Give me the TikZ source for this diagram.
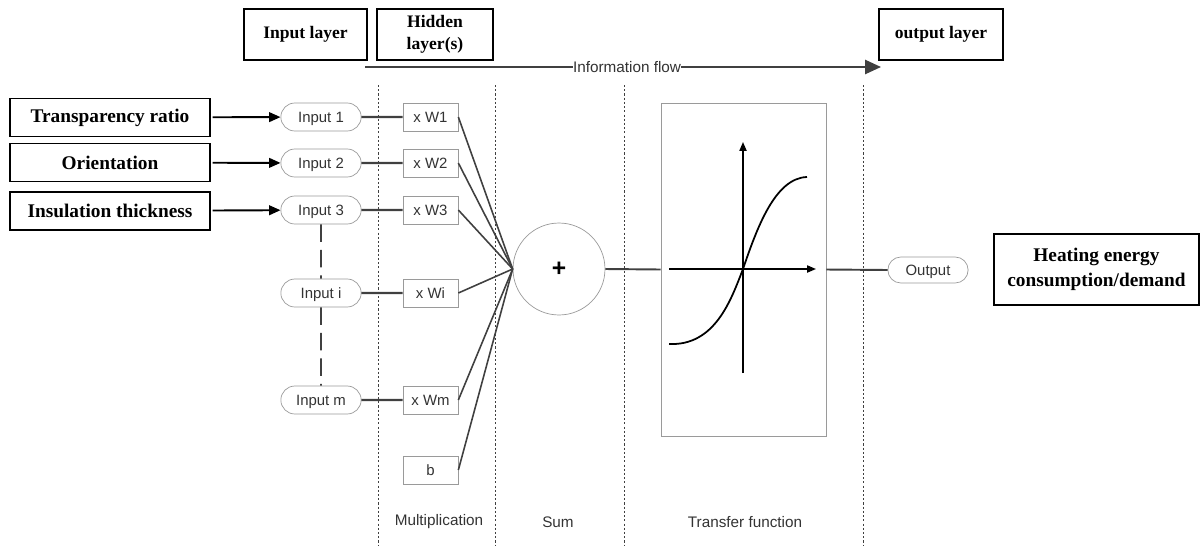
\documentclass[tikz,border=0pt]{standalone}
\usepackage{fontspec}
\setmainfont{Liberation Serif}
\setsansfont{Liberation Sans}
\usepackage{xcolor}
\usepackage{tikz}
\usetikzlibrary{arrows.meta,shapes.misc}
\definecolor{boxgray}{HTML}{9A9A9A}
\definecolor{txtgray}{HTML}{333333}

\begin{document}
\begin{tikzpicture}[x=0.02cm,y=-0.02cm,
    head/.style={draw,line width=0.8pt,font=\fontsize{10}{12.5}\selectfont\bfseries,align=center,minimum height=1.02cm},
    feat/.style={draw,line width=1.1pt,font=\fontsize{11}{14}\selectfont\bfseries,align=center,minimum width=4cm,minimum height=0.76cm},
    inp/.style={draw=boxgray,rounded rectangle,font=\sffamily\fontsize{8.5}{10}\selectfont,text=txtgray,text depth=0pt,minimum width=1.84cm,minimum height=0.56cm},
    wbox/.style={draw=boxgray,font=\sffamily\fontsize{8.5}{10}\selectfont,text=txtgray,text depth=0pt,minimum width=1.1cm,minimum height=0.56cm},
    lbl/.style={font=\sffamily\fontsize{8.7}{10}\selectfont,text=txtgray},
    sep/.style={dash pattern=on 1.2pt off 1.2pt,black!75,line width=0.55pt},
    feed/.style={-{Triangle[length=6.5pt,width=5.5pt]},line width=1.1pt,shorten <=1pt},
    link/.style={black!75,line width=0.9pt}]
  \useasboundingbox (0,0) rectangle (1200,545);
      \node[head,minimum width=2.46cm] (IL) at (305.5,34.5) {Input layer};
      \node[head,minimum width=2.32cm] (HL) at (435,34.5) {Hidden\\layer(s)};
      \node[head,minimum width=2.48cm] (OL) at (941,34.5) {output layer};
        % information flow
      \node[lbl,fill=white,inner xsep=0pt] (IF) at (627,67) {Information flow};
      \draw[black!75,line width=1.1pt] (365,67) -- (IF.west);
      \draw[black!75,line width=1.1pt,-{Triangle[length=9pt,width=8pt]}] (IF.east) -- (881,67);
        % separators
      \draw[sep] (378,85) -- (378,545);
      \draw[sep] (495,85) -- (495,545);
      \draw[sep] (624,85) -- (624,545);
      \draw[sep] (863,85) -- (863,545);
        % features
      \node[feat] (F1) at (110,117.5) {Transparency ratio};
      \node[feat] (F2) at (110,162.5) {Orientation};
      \node[feat] (F3) at (110,211) {Insulation thickness};
      \node[inp] (I1) at (321,117) {Input 1};
      \node[inp] (I2) at (321,163) {Input 2};
      \node[inp] (I3) at (321,210) {Input 3};
      \node[inp] (Ii) at (321,293) {Input i};
      \node[inp] (Im) at (321,400) {Input m};
      \draw[feed] (F1) -- (I1);
      \draw[feed] (F2) -- (I2);
      \draw[feed] (F3) -- (I3);
      \draw[black!75,line width=0.9pt,dash pattern=on 10pt off 4.5pt] (I3) -- (Ii);
      \draw[black!75,line width=0.9pt,dash pattern=on 10pt off 4.5pt] (Ii) -- (Im);
        % weights
      \node[wbox] (W1) at (430.5,117) {x W1};
      \node[wbox] (W2) at (430.5,163) {x W2};
      \node[wbox] (W3) at (430.5,210) {x W3};
      \node[wbox] (Wi) at (430.5,293) {x Wi};
      \node[wbox] (Wm) at (430.5,400) {x Wm};
      \node[wbox] (B) at (430.5,470) {b};
      \draw[link,line width=1.2pt] (I1) -- (W1);
      \draw[link,line width=1.2pt] (I2) -- (W2);
      \draw[link,line width=1.2pt] (I3) -- (W3);
      \draw[link,line width=1.2pt] (Ii) -- (Wi);
      \draw[link,line width=1.2pt] (Im) -- (Wm);
        % sum
      \node[draw=boxgray,circle,minimum size=1.84cm,font=\sffamily\fontsize{14}{14}\selectfont\bfseries] (S) at (559,269) {+};
      \draw[link] (W1.east) -- (S.west);
      \draw[link] (W2.east) -- (S.west);
      \draw[link] (W3.east) -- (S.west);
      \draw[link] (Wi.east) -- (S.west);
      \draw[link] (Wm.east) -- (S.west);
      \draw[link] (B.east) -- (S.west);
        % transfer function
      \node[draw=boxgray,minimum width=3.3cm,minimum height=6.66cm] (T) at (743.5,269.5) {};
      \draw[link,line width=1.1pt] (S.east) -- (T.west);
      \draw[line width=0.9pt,-{Triangle[length=5pt,width=4pt]}] (669,269) -- (816,269);
      \draw[line width=0.9pt,-{Triangle[length=5pt,width=4pt]}] (743,373) -- (743,142);
      \draw[line width=1pt] (669,344) .. controls (715,346) and (731,300) .. (743,269)
            .. controls (757,228) and (775,178) .. (807,177);
        % output
      \node[inp,minimum height=0.52cm] (O) at (928,270) {Output};
      \draw[link,line width=1.1pt] (T.east) -- (O.west);
      \node[feat,minimum width=4.1cm,minimum height=1.42cm] (H) at (1096.5,269.5) {Heating energy\\consumption/demand};
        % bottom labels
      \node[lbl] (LM) at (439,522) {Multiplication};
      \node[lbl] (LS) at (558,522) {Sum};
      \node[lbl] (LT) at (745,522) {Transfer function};
\end{tikzpicture}
\end{document}
